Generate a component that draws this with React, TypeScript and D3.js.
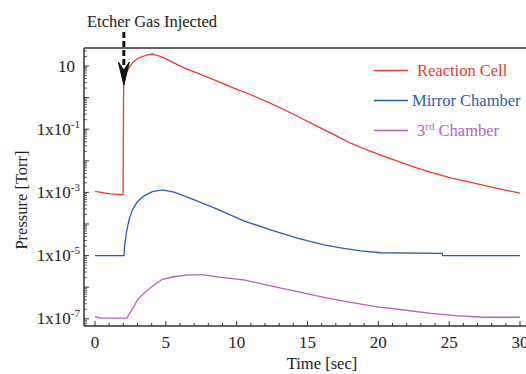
import React from "react";
import * as d3 from "d3";

const W = 526;
const H = 374;

// Time [sec], Pressure [Torr]
const reactionCell: [number, number][] = [
  [0, 1.08e-3], [0.85, 9.3e-4], [1.1, 9.0e-4], [1.8, 8.5e-4], [1.98, 8.5e-4],
  [2.02, 2.1], [2.1, 4.2], [2.2, 6.0], [2.45, 9.5], [2.75, 14], [3.05, 17.5],
  [3.35, 20], [3.7, 22.5], [4.05, 24], [4.5, 21], [4.87, 18], [5.5, 13],
  [6.28, 8.7], [7.5, 5.3], [8.63, 3.3], [9.8, 2.0], [11.0, 1.23], [12.2, 0.72],
  [13.34, 0.42], [14.5, 0.23], [15.7, 0.123], [16.9, 0.066], [18.05, 0.036],
  [19.2, 0.022], [20.4, 0.0138], [21.6, 8.9e-3], [22.75, 5.9e-3], [23.9, 4.1e-3],
  [25.1, 2.9e-3], [26.3, 2.2e-3], [27.45, 1.66e-3], [28.7, 1.25e-3], [30.0, 9.5e-4],
];

const mirrorChamber: [number, number][] = [
  [0, 1e-5], [2.05, 1e-5], [2.08, 1.9e-5], [2.21, 5.1e-5], [2.4, 1.35e-4],
  [2.63, 2.75e-4], [2.99, 5.1e-4], [3.46, 7.8e-4], [4.05, 1.05e-3], [4.75, 1.2e-3],
  [5.58, 1.02e-3], [6.75, 6.5e-4], [8.63, 2.95e-4], [10.5, 1.26e-4], [12.4, 6.5e-5],
  [14.28, 3.55e-5], [16.16, 2.2e-5], [17.57, 1.7e-5], [18.75, 1.41e-5],
  [20.16, 1.23e-5], [24.5, 1.17e-5], [24.55, 1e-5], [30, 1e-5],
];

const thirdChamber: [number, number][] = [
  [0, 1.17e-7], [0.4, 1.05e-7], [2.24, 1.05e-7], [2.52, 1.66e-7], [2.99, 3.9e-7],
  [3.46, 6.5e-7], [4.16, 1.17e-6], [4.75, 1.78e-6], [5.58, 2.14e-6], [6.52, 2.45e-6],
  [7.69, 2.45e-6], [8.87, 2.04e-6], [10.5, 1.7e-6], [12.4, 1.1e-6], [14.28, 7.2e-7],
  [16.16, 4.8e-7], [18.05, 3.3e-7], [19.92, 2.4e-7], [21.8, 1.9e-7], [23.7, 1.48e-7],
  [25.45, 1.26e-7], [27.45, 1.12e-7], [30, 1.12e-7],
];

const xTicks = [0, 5, 10, 15, 20, 25, 30];
const yLabelExps = [1, -1, -3, -5, -7];
const seriesNames = ["Reaction Cell", "Mirror Chamber", "3rd Chamber"];
const seriesColors = ["#f0382c", "#2c5cb2", "#b063b6"];
const injectTime = 2.0;

const FONT = "Liberation Serif, DejaVu Serif, serif";
const TS: React.CSSProperties = { fontFamily: FONT };

export default function App() {
  const left = 84, top = 48, bottom = 326, right = 540;
  const x = d3.scaleLinear().domain([0, 30]).range([95, 520]);
  const y = d3.scaleLog().domain([1e-7, 10]).range([318.8, 66]);

  const line = d3
    .line<[number, number]>()
    .x((d) => x(d[0]))
    .y((d) => y(d[1]))
    .curve(d3.curveLinear);

  const series = [reactionCell, mirrorChamber, thirdChamber];

  const minorX = d3.range(0, 31, 1);
  const majorY: number[] = [];
  const minorY: number[] = [];
  for (let e = -8; e <= 1; e++) {
    const base = Math.pow(10, e);
    if (base >= 1e-7 * 0.999 && base <= 10.001) majorY.push(base);
    for (let m = 2; m <= 9; m++) {
      const v = m * base;
      if (y(v) > top && y(v) < bottom) minorY.push(v);
    }
  }

  const ax = x(injectTime) + 0.5;

  return (
    <svg
      width={W}
      height={H}
      style={{ position: "absolute", left: 0, top: 0, background: "#fff", fontFamily: FONT }}
    >
      <defs>
        <clipPath id="plotclip">
          <rect x={left} y={top} width={right - left} height={bottom - top} />
        </clipPath>
      </defs>

      {/* frame */}
      <line x1={left} x2={W} y1={top} y2={top} stroke="#333" strokeWidth={1.5} />
      <line x1={left} x2={left} y1={top} y2={bottom} stroke="#333" strokeWidth={1.5} />
      <line x1={left} x2={W} y1={bottom} y2={bottom} stroke="#333" strokeWidth={1.5} />

      {/* x ticks */}
      {minorX.map((t) => (
        <line
          key={"xt" + t}
          x1={x(t)}
          x2={x(t)}
          y1={bottom}
          y2={bottom - (t % 5 === 0 ? 5 : 3)}
          stroke="#333"
          strokeWidth={1}
        />
      ))}
      {xTicks.map((t) => (
        <text key={"xl" + t} x={x(t)} y={348} textAnchor="middle" fontSize={17} fill="#222" style={TS}>
          {t}
        </text>
      ))}

      {/* y ticks */}
      {majorY.map((v, i) => (
        <line key={"ym" + i} x1={left} x2={left + 5} y1={y(v)} y2={y(v)} stroke="#333" strokeWidth={1} />
      ))}
      {minorY.map((v, i) => (
        <line key={"yn" + i} x1={left} x2={left + 3} y1={y(v)} y2={y(v)} stroke="#333" strokeWidth={0.8} />
      ))}
      {yLabelExps.map((e) =>
        e === 1 ? (
          <text key={"yl" + e} x={75} y={y(10) + 5.5} textAnchor="end" fontSize={17} fill="#222" style={TS}>
            10
          </text>
        ) : (
          <text key={"yl" + e} x={80} y={y(Math.pow(10, e)) + 5.5} textAnchor="end" fontSize={17} fill="#222" style={TS}>
            1x10
            <tspan fontSize={11} dy={-7}>
              {String(e)}
            </tspan>
          </text>
        )
      )}

      {/* axis titles */}
      <text x={322} y={369} textAnchor="middle" fontSize={16.5} fill="#222" style={TS}>
        Time [sec]
      </text>
      <text
        transform={`translate(27,200) rotate(-90)`}
        textAnchor="middle"
        fontSize={16.5}
        fill="#222"
        style={TS}
      >
        Pressure [Torr]
      </text>

      {/* series */}
      <g clipPath="url(#plotclip)">
        {series.map((s, i) => (
          <path key={"s" + i} d={line(s) || ""} fill="none" stroke={seriesColors[i]} strokeWidth={1.3} />
        ))}
      </g>

      {/* legend */}
      {seriesNames.map((n, i) => {
        const ly = 70.5 + i * 30;
        return (
          <g key={"lg" + i}>
            <line x1={374} x2={408} y1={ly} y2={ly} stroke={seriesColors[i]} strokeWidth={1.3} />
            {i === 2 ? (
              <text x={417} y={ly + 5.5} fontSize={16.5} fill={seriesColors[i]} style={TS}>
                3
                <tspan fontSize={11} dy={-6}>rd</tspan>
                <tspan dy={6}> Chamber</tspan>
              </text>
            ) : (
              <text x={i === 0 ? 417 : 412} y={ly + 5.5} fontSize={16.5} fill={seriesColors[i]} style={TS}>
                {n}
              </text>
            )}
          </g>
        );
      })}

      {/* annotation */}
      <text x={87} y={27} fontSize={16.5} fill="#222" style={TS}>
        Etcher Gas Injected
      </text>
      <line x1={ax} x2={ax} y1={32} y2={68} stroke="#111" strokeWidth={3} strokeDasharray="6,3" />
      <path
        d={`M${ax - 5.5},62 L${ax},70 L${ax + 5.5},62 L${ax},85 Z`}
        fill="#111"
        stroke="#111"
        strokeWidth={1}
        strokeLinejoin="miter"
      />
    </svg>
  );
}
